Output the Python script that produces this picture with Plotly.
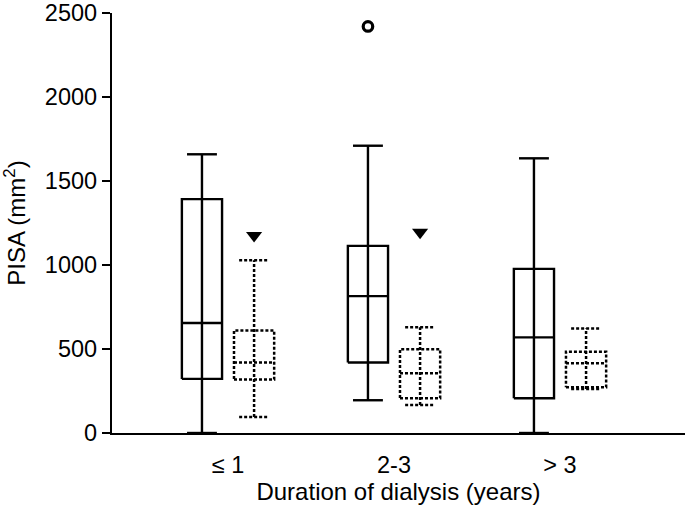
import plotly.graph_objects as go

categories = ["≤ 1", "2-3", "> 3"]
cat_pos = [1, 2, 3]

# Series A (solid boxes)
a_low = [0, 195, 0]
a_q1 = [322, 420, 207]
a_med = [655, 815, 569]
a_q3 = [1392, 1114, 977]
a_high = [1659, 1710, 1635]
a_outliers = [[], [2420], []]

# Series B (dotted boxes)
b_low = [95, 166, 262]
b_q1 = [318, 207, 272]
b_med = [420, 355, 415]
b_q3 = [610, 498, 484]
b_high = [1028, 630, 622]

# significance markers (▼) above series B
sig_y = [1175, 1195, None]

y_ticks = [0, 500, 1000, 1500, 2000, 2500]

OFF = 0.157
HALF = 0.121
CAP = 0.09


def box_path(centers, low, q1, med, q3, high):
    xs, ys = [], []
    for c, lo, a, m, b, hi in zip(centers, low, q1, med, q3, high):
        x0, x1 = c - HALF, c + HALF
        xs += [x0, x1, x1, x0, x0, None]
        ys += [a, a, b, b, a, None]
        xs += [x0, x1, None]
        ys += [m, m, None]
        xs += [c, c, None]
        ys += [lo, hi, None]
        xs += [c - CAP, c + CAP, None, c - CAP, c + CAP, None]
        ys += [hi, hi, None, lo, lo, None]
    return xs, ys


fig = go.Figure()

ax, ay = box_path([p - OFF for p in cat_pos], a_low, a_q1, a_med, a_q3, a_high)
fig.add_trace(go.Scatter(x=ax, y=ay, mode="lines",
                         line=dict(color="black", width=2.4), hoverinfo="skip",
                         showlegend=False, cliponaxis=False))

bx, by = box_path([p + OFF for p in cat_pos], b_low, b_q1, b_med, b_q3, b_high)
fig.add_trace(go.Scatter(x=bx, y=by, mode="lines",
                         line=dict(color="black", width=2.5, dash="3px,2px"),
                         hoverinfo="skip", showlegend=False, cliponaxis=False))

ox, oy = [], []
for p, outs in zip(cat_pos, a_outliers):
    for o in outs:
        ox.append(p - OFF)
        oy.append(o)
fig.add_trace(go.Scatter(x=ox, y=oy, mode="markers",
                         marker=dict(symbol="circle-open", size=9.5, color="black",
                                     line=dict(width=3.2, color="black")),
                         showlegend=False))

sx = [p + OFF for p, s in zip(cat_pos, sig_y) if s is not None]
sy = [s for s in sig_y if s is not None]
fig.add_trace(go.Scatter(x=sx, y=sy, mode="markers",
                         marker=dict(symbol="triangle-down", size=14, color="black"),
                         showlegend=False))

font = dict(family="Liberation Sans, Arial, sans-serif", size=24, color="black")
tfont = dict(family="Liberation Sans, Arial, sans-serif", size=23.5, color="black")

fig.update_layout(
    width=685, height=510,
    margin=dict(l=112, r=0, t=11, b=77),
    plot_bgcolor="white", paper_bgcolor="white",
    font=font,
    xaxis=dict(range=[0.301, 3.753], tickvals=cat_pos, ticktext=categories,
               showline=True, linecolor="black", linewidth=2.4,
               showgrid=False, zeroline=False, ticks="",
               ticklabelstandoff=10,
               title=dict(text="Duration of dialysis (years)", standoff=2, font=font),
               tickfont=tfont),
    yaxis=dict(range=[0, 2500], tickvals=y_ticks,
               showline=True, linecolor="black", linewidth=2.4,
               showgrid=False, zeroline=False, ticks="outside", ticklen=8,
               tickwidth=2.4, tickcolor="black", ticklabeloverflow="allow",
               title=dict(text="PISA (mm<sup>2</sup>)", standoff=16, font=font),
               tickfont=tfont),
)

fig.write_html("out.html",
               config={"displayModeBar": False},
               post_script="document.body.style.margin='0px';"
                           "document.body.style.overflow='hidden';")
